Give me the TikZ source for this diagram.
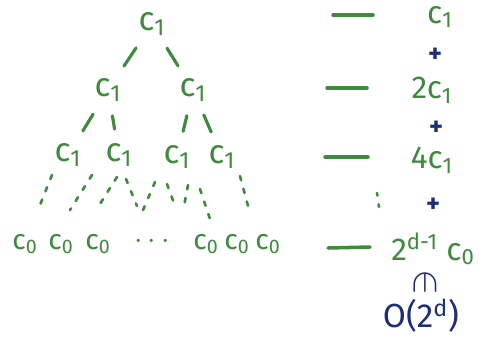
\documentclass[tikz,border=0pt]{standalone}
\usepackage{fontspec}
\setmainfont{Fira Sans}
\usepackage{graphicx}
\usetikzlibrary{positioning}
\definecolor{pen}{HTML}{3F8A3F}
\definecolor{ink}{HTML}{1E2D78}
\tikzset{
  cost/.style ={text=pen,font=\fontsize{19}{21}\selectfont,inner sep=1pt},
  leaf/.style ={text=pen,font=\fontsize{16}{18}\selectfont,inner sep=1pt},
  term/.style ={text=pen,font=\fontsize{18}{20}\selectfont,inner sep=1pt},
  plus/.style ={text=ink,font=\bfseries\fontsize{15}{16}\selectfont,inner sep=0pt},
  order/.style={text=ink,font=\fontsize{19}{21}\selectfont,inner sep=1pt},
  br/.style   ={draw=pen,line width=1.8pt,line cap=round,shorten >=7pt,shorten <=7pt},
  dots/.style ={draw=pen,line width=1.5pt,line cap=round,dash pattern=on 2.5pt off 5pt},
  lvl/.style  ={draw=pen,line width=2pt,line cap=round},
}
\begin{document}
\begin{tikzpicture}[x=0.02cm,y=-0.02cm]
  \useasboundingbox (0,0) rectangle (489,338);
  % tree of costs
  \node[cost] (root) at (152,24) {c\textsubscript{1}};
  \node[cost] (l)  at (108,90)  {c\textsubscript{1}};
  \node[cost] (r)  at (193,90)  {c\textsubscript{1}};
  \node[cost] (ll) at (68,155)  {c\textsubscript{1}};
  \node[cost] (lr) at (119,155) {c\textsubscript{1}};
  \node[cost] (rl) at (177,157) {c\textsubscript{1}};
  \node[cost] (rr) at (222,157) {c\textsubscript{1}};
  \draw[br] (root) -- (l);  \draw[br] (root) -- (r);
  \draw[br] (l) -- (ll);    \draw[br] (l) -- (lr);
  \draw[br] (r) -- (rl);    \draw[br] (r) -- (rr);
  % unfinished levels
  \draw[dots] (52,175) -- (38,210);   \draw[dots] (92,175) -- (70,210);
  \draw[dots] (117,177) -- (98,207);  \draw[dots] (126,179) -- (137,206);
  \draw[dots] (155,182) -- (143,210); \draw[dots] (167,184) -- (175,206);
  \draw[dots] (188,185) -- (184,206); \draw[dots] (200,189) -- (210,219);
  \draw[dots] (240,176) -- (248,206);
  % leaves
  \node[leaf] (b1) at (25,244)  {c\textsubscript{0}};
  \node[leaf] (b2) at (61,244)  {c\textsubscript{0}};
  \node[leaf] (b3) at (98,244)  {c\textsubscript{0}};
  \node[leaf] (bd) at (152,242) {$\cdots$};
  \node[leaf] (b4) at (206,244) {c\textsubscript{0}};
  \node[leaf] (b5) at (237,244) {c\textsubscript{0}};
  \node[leaf] (b6) at (268,244) {c\textsubscript{0}};
  % level sums
  \draw[lvl] (333,15) -- (373,15);
  \draw[lvl] (327,88) -- (367,88);
  \draw[lvl] (325,157) -- (368,157);
  \draw[lvl] (328,248) -- (370,247);
  \draw[dots,dash pattern=on 1.5pt off 5pt] (377,193) -- (380,214);
  \node[term] (s1) at (440,17)  {c\textsubscript{1}};
  \node[plus] (p1) at (435,55)  {+};
  \node[term] (s2) at (432,90)  {2c\textsubscript{1}};
  \node[plus] (p2) at (436,128) {+};
  \node[term] (s3) at (432,160) {4c\textsubscript{1}};
  \node[plus] (p3) at (433,205) {+};
  \node[term] (sd) at (433,249) {2\textsuperscript{d-1} c\textsubscript{0}};
  \node[order] (in) at (425,283) {\scalebox{1.3}{\rotatebox{-90}{$\in$}}};
  \node[order] (big) at (421,316) {O(2\textsuperscript{d})};
\end{tikzpicture}
\end{document}
